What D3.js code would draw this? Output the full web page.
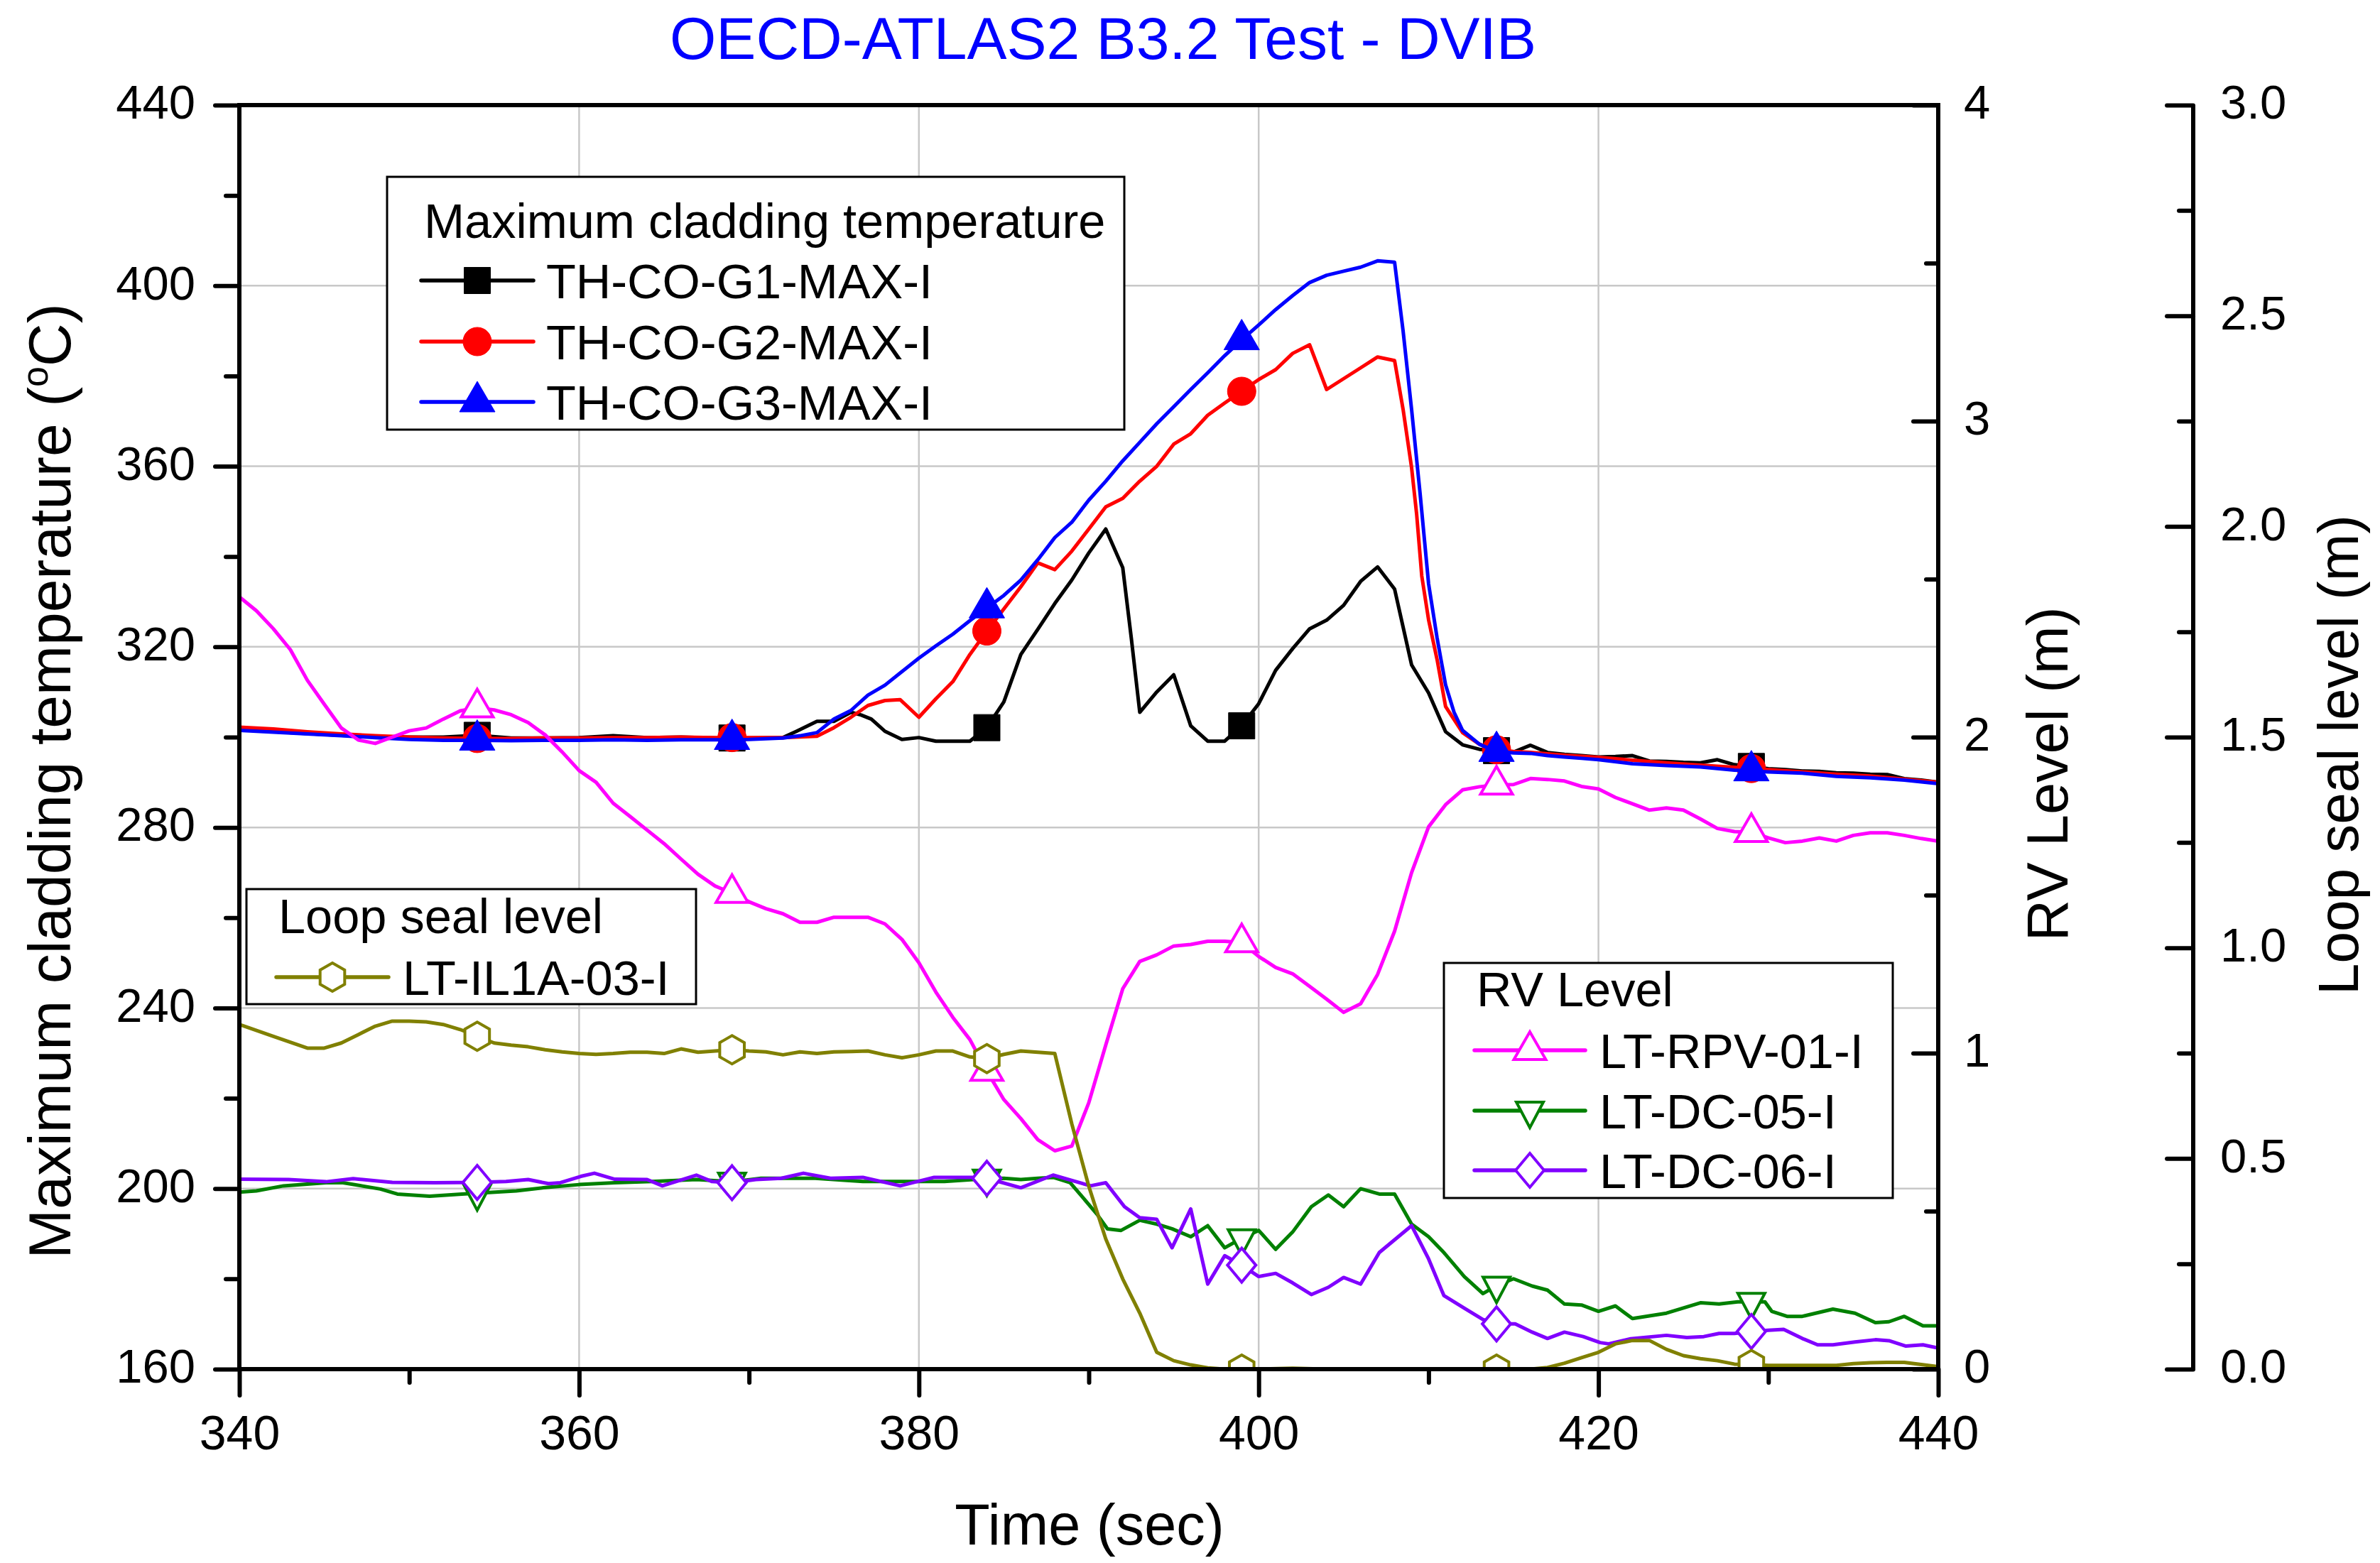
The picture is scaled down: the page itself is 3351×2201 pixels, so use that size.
<!DOCTYPE html>
<html><head><meta charset="utf-8">
<script src="https://cdn.jsdelivr.net/npm/d3@7"></script>
<style>
html,body{margin:0;padding:0;background:#fff;}
svg{display:block;}
</style></head><body>
<svg id="chart" width="3351" height="2201"></svg>
<script>
// ---------------- DATA ----------------
const tickTemp = [160,200,240,280,320,360,400,440];
const minorTemp = [180,220,260,300,340,380,420];
const gridTemp = [200,240,280,320,360,400];
const tickTime = [340,360,380,400,420,440];
const minorTime = [350,370,390,410,430];
const gridTime = [360,380,400,420];
const tickRV = [0,1,2,3,4];
const minorRV = [0.5,1.5,2.5,3.5];
const tickLS = [0,0.5,1,1.5,2,2.5,3];
const minorLS = [0.25,0.75,1.25,1.75,2.25,2.75];
const markerTimes = [354,369,384,399,414,429];

// Maximum cladding temperature (°C)
const timeG1 = [340,342,344,346,348,350,352,354,356,358,360,362,364,366,368,370,372,
  372.8,374,375,376,376.6,377.2,
  378,379,380,381,382,383,384,385,386,387,388,389,390,391,392,
  392.5,
  393,394,395,396,397,398,399,400,401,402,403,404,405,406,407,408,
  408.5,
  409,410,411,412,413,414,415,416,417,418,419,420,421,422,423,424,425,426,427,428,429,430,431,432,433,434,435,436,437,438,439,440];
const g1 = [301.7,301.2,300.8,300.4,300.1,300,300,300.4,299.8,299.8,299.9,300.3,299.9,300,299.8,299.8,299.9,
  301.3,303.5,303.5,305.5,304.9,304,
  301.3,299.5,299.9,299.1,299.1,299.1,302.1,307.8,318.3,323.9,329.6,334.8,340.8,346.1,337.5,
  322,
  305.5,310,313.8,302.5,299.1,299.1,302.5,307.4,314.8,319.6,324,325.9,329.2,334.5,337.7,332.8,
  324.4,
  316,309.8,301.2,298.3,297.3,297,296.7,298.2,296.6,296.2,295.9,295.6,295.7,295.9,294.7,294.6,294.4,294.3,295,293.9,293.5,293,292.8,292.5,292.4,292.1,292,291.8,291.7,290.8,290.5,290];

const timeG2 = [340,342,344,346,348,350,352,354,356,358,360,362,364,366,368,370,372,
  374,375,376,377,378,378.9,
  380,381,382,383,384,385,386,387,388,389,390,391,392,393,394,395,396,397,398,399,400,401,402,403,404,405,406,407,408,
  408.5,409,409.3,409.6,410,410.5,411,
  412,413,414,415,416,
  418,420,422,424,426,428,430,432,434,436,438,440];
const g2 = [302.2,301.8,301.2,300.7,300.3,300,299.8,299.7,299.7,299.8,299.8,299.9,299.9,300,299.9,299.9,299.9,
  300.2,302.1,304.4,307,308.1,308.3,
  304.4,308.5,312.3,318.3,323.5,328.4,333.3,338.6,337.1,341.2,346.1,351,352.9,356.7,360,364.9,367.2,371.3,374,376.6,379.2,381.4,385,386.9,377,379.4,381.8,384.2,383.4,
  372.6,359.7,349.3,335.7,326,317.2,306.8,
  301,298.4,297.2,296.8,296.6,
  296,295.5,294.9,294.3,293.8,293.3,292.8,292.3,291.8,291.4,290.7,290];

const timeG3 = [340,342,344,346,348,350,352,354,356,358,360,362,364,366,368,370,372,
  373,374,375,376,377,378,379,380,381,382,383,384,385,386,387,388,389,390,391,392,393,394,395,396,397,398,399,400,401,402,403,404,405,406,407,408,
  408.5,409,409.5,410,410.5,411,411.5,
  412,413,414,415,416,417,418,419,420,
  422,424,426,428,430,432,434,436,438,440];
const g3 = [301.5,301.1,300.7,300.3,299.9,299.5,299.3,299.3,299.2,299.3,299.3,299.4,299.3,299.4,299.4,299.5,299.8,
  300.3,301,304,305.9,309.3,311.5,314.5,317.5,320.2,322.8,325.8,328.6,331.4,334.8,339.3,344.2,347.6,352.5,356.7,361.2,365.3,369.4,373.2,377,380.7,384.5,388,391.3,394.7,397.8,400.7,402.3,403.2,404.1,405.5,405.2,
  390,372.6,354,334,322,311.6,305.5,
  301.5,298.4,296.8,296.5,296.4,295.9,295.6,295.3,295,
  294.1,293.7,293.4,292.7,292.3,292,291.3,291,290.5,289.7];

// RV level (m)
const timeRPV = d3.range(340,441,1);
const rpv01 = [2.444,2.400,2.343,2.277,2.180,2.104,2.029,1.991,1.980,2.000,
  2.020,2.029,2.057,2.083,2.093,2.086,2.071,2.046,2.007,1.953,
  1.894,1.857,1.791,1.749,1.706,1.663,1.614,1.566,1.529,1.506,
  1.479,1.457,1.441,1.414,1.414,1.430,1.430,1.430,1.409,1.360,
  1.286,1.193,1.113,1.043,0.943,0.853,0.793,0.726,0.691,0.706,
  0.843,1.026,1.204,1.290,1.311,1.339,1.344,1.354,1.354,1.350,
  1.306,1.271,1.251,1.211,1.171,1.129,1.156,1.249,1.386,1.571,
  1.716,1.786,1.833,1.843,1.849,1.850,1.869,1.866,1.861,1.844,
  1.836,1.809,1.789,1.769,1.776,1.769,1.741,1.711,1.701,1.699,
  1.681,1.666,1.671,1.681,1.671,1.689,1.697,1.697,1.689,1.679,
  1.671];

const timeDC05 = [340,341,342.6,345.1,346.1,348.3,349.3,351.2,353.1,354,
  356.3,357.9,360,362.1,364.3,366.9,369,370.7,373.9,376.7,
  381.5,384,385,386,387,387.9,388.9,389.7,390.5,391.1,
  391.9,393,394,394.9,396,397,398,399,400,401,
  402,403.1,404.1,405,406,407.1,408,409,410,410.9,
  412.1,413.2,414,415,416.1,417,418,419,420,421,
  422,424,426,427.1,428.2,429,429.8,430.2,431.1,432,
  433.8,435.1,436.3,437.1,438,439.1,440];
const dc05 = [0.560,0.564,0.580,0.590,0.590,0.570,0.554,0.547,0.554,0.557,
  0.564,0.574,0.584,0.590,0.594,0.600,0.593,0.604,0.604,0.594,
  0.594,0.603,0.604,0.600,0.604,0.607,0.590,0.540,0.489,0.444,
  0.439,0.471,0.459,0.444,0.419,0.454,0.384,0.414,0.439,0.379,
  0.434,0.514,0.551,0.514,0.571,0.554,0.554,0.459,0.419,0.369,
  0.293,0.239,0.264,0.286,0.263,0.250,0.206,0.203,0.183,0.200,
  0.160,0.177,0.210,0.206,0.213,0.213,0.213,0.183,0.167,0.167,
  0.190,0.177,0.147,0.150,0.167,0.137,0.137];

const timeDC06 = [340,342.9,345.1,346.7,349,351.5,354,355.7,357,358.2,
  358.9,360.1,360.9,362.1,364,364.9,365.9,366.9,367.8,369,
  370.4,371.9,373.2,374.8,376.7,378.9,380.9,383.1,384,386,
  387.9,389.2,390.1,391,392.1,393,394,394.9,396,397,
  398,399,400,401,402,403.1,404.1,405,406,407.1,
  409,410,410.9,412.1,413.2,414,415.1,416.1,417,418,
  419.1,420.1,420.6,421.9,424,425.2,426.2,427.1,428,429,
  430,430.9,432,432.9,433.8,435.1,436.3,437.1,438.1,439.1,
  440];
const dc06 = [0.601,0.600,0.593,0.603,0.591,0.590,0.591,0.594,0.600,0.587,
  0.590,0.610,0.620,0.601,0.600,0.580,0.597,0.614,0.594,0.590,
  0.600,0.604,0.620,0.604,0.607,0.580,0.607,0.607,0.604,0.574,
  0.614,0.594,0.580,0.590,0.514,0.479,0.474,0.384,0.507,0.269,
  0.359,0.329,0.293,0.303,0.273,0.236,0.259,0.290,0.269,0.369,
  0.454,0.349,0.233,0.193,0.157,0.143,0.143,0.117,0.097,0.117,
  0.103,0.084,0.080,0.096,0.107,0.100,0.103,0.113,0.113,0.119,
  0.123,0.126,0.097,0.077,0.077,0.086,0.093,0.090,0.073,0.077,
  0.067];

// Loop seal level (m)
const timeLS = [340,342,344,345,
  346,347,348,349,350,351,352,353,354,355,356,357,358,359,360,361,362,363,364,365,366,367,368,369,370,371,372,
  373,374,375,376,377,378,379,380,381,382,383,384,385,386,387,388,389,390,391,392,393,394,395,396,397,398,
  400,402,404,406,408,410,412,414,416,
  417,418,419,420,421,422,423,424,425,426,427,428,429,430,
  432,434,435,436,437,438,439,440];
const ls03 = [0.818,0.790,0.762,0.762,
  0.774,0.794,0.814,0.826,0.826,0.824,0.818,0.806,0.790,0.774,0.769,0.765,0.758,0.753,0.749,0.747,0.749,0.752,0.752,0.749,0.760,0.752,0.755,0.758,0.755,0.753,0.746,
  0.753,0.749,0.753,0.754,0.755,0.746,0.739,0.746,0.755,0.755,0.741,0.737,0.747,0.755,0.752,0.749,0.582,0.434,0.309,0.214,0.133,0.040,0.020,0.010,0.003,0,
  0,0.002,0,0,0,0,0,0,0,
  0.004,0.014,0.027,0.040,0.060,0.068,0.068,0.047,0.032,0.025,0.020,0.012,0.011,0.009,
  0.009,0.009,0.013,0.015,0.016,0.016,0.011,0.006];

const titleText = "OECD-ATLAS2 B3.2 Test - DVIB";
const legendTitleG = "Maximum cladding temperature";
const legendTitleLS = "Loop seal level";
const legendTitleRV = "RV Level";

// ---------------- LAYOUT ----------------
const W = 3351, H = 2201;
const L = 337, R = 2729, T = 148, B = 1928;
const LSX = 3088;
const FONT = '"Liberation Sans", Arial, Helvetica, sans-serif';
const LEGFONT = 68.5;

const svg = d3.select('#chart');
const x = d3.scaleLinear().domain([340,440]).range([L,R]);
const yT = d3.scaleLinear().domain([160,440]).range([B,T]);
const yRV = d3.scaleLinear().domain([0,4]).range([B,T]);
const yLS = d3.scaleLinear().domain([0,3]).range([B,T]);

svg.append('rect').attr('width',W).attr('height',H).attr('fill','#fff');

// grid
const grid = svg.append('g');
grid.selectAll('line.gh').data(gridTemp).join('line').attr('class','gh')
  .attr('x1',L).attr('x2',R).attr('y1',d=>yT(d)).attr('y2',d=>yT(d))
  .attr('stroke','#c8c8c8').attr('stroke-width',2.5);
grid.selectAll('line.gv').data(gridTime).join('line').attr('class','gv')
  .attr('y1',T).attr('y2',B).attr('x1',d=>x(d)).attr('x2',d=>x(d))
  .attr('stroke','#c8c8c8').attr('stroke-width',2.5);

// markers
function markerPath(type){
  switch(type){
    case 'square': return 'M-18.5,-18.5H18.5V18.5H-18.5Z';
    case 'circle': return d3.symbol(d3.symbolCircle, Math.PI*20*20)();
    case 'triangle': return 'M0,-29L25,14L-25,14Z';
    case 'triUp': return 'M0,-26L22.5,13L-22.5,13Z';
    case 'triDown': return 'M-19,-12L19,-12L0,24Z';
    case 'diamond': return 'M0,-24L20,0L0,24L-20,0Z';
    case 'hexagon': return 'M0,-20L17.3,-10L17.3,10L0,20L-17.3,10L-17.3,-10Z';
  }
}

const series = [
  {t:timeG1, v:g1, y:yT, color:'#000000', mk:'square', filled:true, name:'TH-CO-G1-MAX-I'},
  {t:timeG2, v:g2, y:yT, color:'#ff0000', mk:'circle', filled:true, name:'TH-CO-G2-MAX-I'},
  {t:timeG3, v:g3, y:yT, color:'#0000ff', mk:'triangle', filled:true, name:'TH-CO-G3-MAX-I'},
  {t:timeRPV, v:rpv01, y:yRV, color:'#ff00ff', mk:'triUp', filled:false, name:'LT-RPV-01-I'},
  {t:timeDC05, v:dc05, y:yRV, color:'#008000', mk:'triDown', filled:false, name:'LT-DC-05-I'},
  {t:timeDC06, v:dc06, y:yRV, color:'#8000ff', mk:'diamond', filled:false, name:'LT-DC-06-I'},
  {t:timeLS, v:ls03, y:yLS, color:'#808000', mk:'hexagon', filled:false, name:'LT-IL1A-03-I'}
];

function interpAt(times, vals, t){
  const i = d3.bisectRight(times, t);
  if (i <= 0) return vals[0];
  if (i >= times.length) return vals[vals.length-1];
  const t0 = times[i-1], t1 = times[i];
  return vals[i-1] + (vals[i]-vals[i-1])*(t-t0)/(t1-t0);
}

svg.append('defs').append('clipPath').attr('id','plotclip')
  .append('rect').attr('x',L).attr('y',T).attr('width',R-L).attr('height',B-T);
const plot = svg.append('g').attr('clip-path','url(#plotclip)');

function drawMarker(g, type, color, filled, cx, cy){
  g.append('path').attr('d', markerPath(type))
    .attr('transform',`translate(${cx},${cy})`)
    .attr('fill', filled ? color : '#ffffff')
    .attr('stroke', color).attr('stroke-width', filled ? 1 : 4)
    .attr('stroke-linejoin','miter');
}

series.forEach(s => {
  const line = d3.line().x((d,i)=>x(s.t[i])).y(d=>s.y(d));
  plot.append('path').datum(s.v).attr('d', line)
    .attr('fill','none').attr('stroke', s.color).attr('stroke-width',5)
    .attr('stroke-linejoin','round');
  const mg = plot.append('g');
  markerTimes.forEach(mt => {
    drawMarker(mg, s.mk, s.color, s.filled, x(mt), s.y(interpAt(s.t, s.v, mt)));
  });
});

// frame
svg.append('rect').attr('x',L).attr('y',T).attr('width',R-L).attr('height',B-T)
  .attr('fill','none').attr('stroke','#000').attr('stroke-width',6);
svg.append('line').attr('x1',LSX).attr('x2',LSX).attr('y1',T).attr('y2',B)
  .attr('stroke','#000').attr('stroke-width',6);

function styleAxis(g){
  g.select('.domain').remove();
  g.selectAll('.tick line').attr('stroke','#000').attr('stroke-width',6).attr('stroke-linecap','round');
  g.selectAll('.tick text').attr('font-family',FONT).attr('font-size',67).attr('fill','#000');
}

// left
svg.append('g').attr('transform',`translate(${L},0)`)
  .call(d3.axisLeft(yT).tickValues(tickTemp).tickSize(34).tickPadding(28).tickFormat(d3.format('d')))
  .call(styleAxis).call(g=>g.selectAll('.tick text').attr('dy','0.28em'));
svg.append('g').attr('transform',`translate(${L},0)`)
  .call(d3.axisLeft(yT).tickValues(minorTemp).tickSize(19).tickFormat(''))
  .call(styleAxis);
// bottom
svg.append('g').attr('transform',`translate(0,${B})`)
  .call(d3.axisBottom(x).tickValues(tickTime).tickSize(37).tickPadding(28).tickFormat(d3.format('d')))
  .call(styleAxis).call(g=>g.selectAll('.tick text').attr('font-size',68));
svg.append('g').attr('transform',`translate(0,${B})`)
  .call(d3.axisBottom(x).tickValues(minorTime).tickSize(19).tickFormat(''))
  .call(styleAxis);
// RV axis (right)
svg.append('g').attr('transform',`translate(${R},0)`)
  .call(d3.axisRight(yRV).tickValues(tickRV).tickSizeInner(-35).tickSizeOuter(0).tickPadding(36).tickFormat(d3.format('d')))
  .call(styleAxis).call(g=>g.selectAll('.tick text').attr('dy','0.28em'));
svg.append('g').attr('transform',`translate(${R},0)`)
  .call(d3.axisRight(yRV).tickValues(minorRV).tickSizeInner(-17).tickSizeOuter(0).tickFormat(''))
  .call(styleAxis);
// Loop seal axis
svg.append('g').attr('transform',`translate(${LSX},0)`)
  .call(d3.axisRight(yLS).tickValues(tickLS).tickSizeInner(-37).tickSizeOuter(0).tickPadding(38).tickFormat(d3.format('.1f')))
  .call(styleAxis).call(g=>g.selectAll('.tick text').attr('dy','0.28em'));
svg.append('g').attr('transform',`translate(${LSX},0)`)
  .call(d3.axisRight(yLS).tickValues(minorLS).tickSizeInner(-20).tickSizeOuter(0).tickFormat(''))
  .call(styleAxis);

// titles
svg.append('text').attr('x',1553).attr('y',83).attr('text-anchor','middle')
  .attr('font-family',FONT).attr('font-size',84).attr('fill','#0000ff').text(titleText);
svg.append('text').attr('x',1534).attr('y',2175).attr('text-anchor','middle')
  .attr('font-family',FONT).attr('font-size',81).attr('fill','#000').text('Time (sec)');
const yl = svg.append('text').attr('transform','translate(99,1100) rotate(-90)').attr('text-anchor','middle')
  .attr('font-family',FONT).attr('font-size',84).attr('fill','#000');
yl.append('tspan').text('Maximum cladding temperature (');
yl.append('tspan').attr('font-size',52).attr('dy',-32).text('o');
yl.append('tspan').attr('dy',32).text('C)');
svg.append('text').attr('transform','translate(2911,1090) rotate(-90)').attr('text-anchor','middle')
  .attr('font-family',FONT).attr('font-size',81).attr('fill','#000').text('RV Level (m)');
svg.append('text').attr('transform','translate(3320,1063) rotate(-90)').attr('text-anchor','middle')
  .attr('font-family',FONT).attr('font-size',80).attr('fill','#000').text('Loop seal level (m)');

// legends
function legend(box, title, titlePos, rows, lineX0, lineX1, textX){
  const g = svg.append('g');
  g.append('rect').attr('x',box[0]).attr('y',box[1]).attr('width',box[2]).attr('height',box[3])
    .attr('fill','#fff').attr('stroke','#000').attr('stroke-width',3);
  g.append('text').attr('x',titlePos[0]).attr('y',titlePos[1]).attr('font-family',FONT)
    .attr('font-size',LEGFONT).attr('fill','#000').text(title);
  rows.forEach(r => {
    const s = r.s;
    g.append('line').attr('x1',lineX0).attr('x2',lineX1).attr('y1',r.y).attr('y2',r.y)
      .attr('stroke',s.color).attr('stroke-width',5.5).attr('stroke-linecap','round');
    drawMarker(g, s.mk, s.color, s.filled, (lineX0+lineX1)/2, r.y);
    g.append('text').attr('x',textX).attr('y',r.y+25).attr('font-family',FONT)
      .attr('font-size',LEGFONT).attr('fill','#000').text(s.name);
  });
}
legend([545,249,1038,356], legendTitleG, [597,335],
  [{s:series[0],y:395},{s:series[1],y:481},{s:series[2],y:566}], 593, 751, 769);
legend([347,1252,633,162], legendTitleLS, [392,1314],
  [{s:series[6],y:1376}], 389, 547, 567);
legend([2033,1356,632,331], legendTitleRV, [2079,1417],
  [{s:series[3],y:1479},{s:series[4],y:1564},{s:series[5],y:1648}], 2076, 2232, 2252);
</script>
</body></html>
